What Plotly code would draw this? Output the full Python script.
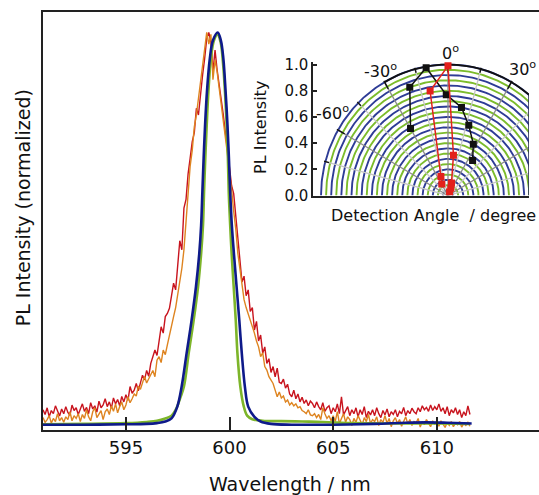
import numpy as np
import plotly.graph_objects as go

# ---------------- main spectra ----------------
WL_START = 591.0
WL_STEP = 0.1

red_pl = [
    0.040, 0.028, 0.045, 0.022, 0.038, 0.030, 0.050, 0.035, 0.024, 0.042,
    0.030, 0.048, 0.033, 0.026, 0.052, 0.038, 0.045, 0.028, 0.040, 0.055,
    0.036, 0.046, 0.030, 0.058, 0.042, 0.050, 0.034, 0.062, 0.045, 0.052,
    0.068, 0.048, 0.060, 0.044, 0.070, 0.055, 0.066, 0.050, 0.074, 0.060,
    0.078, 0.064, 0.099, 0.082, 0.090, 0.107, 0.088, 0.111, 0.128, 0.116,
    0.140, 0.125, 0.158, 0.175, 0.192, 0.178, 0.217, 0.251, 0.235, 0.277,
    0.285, 0.298, 0.330, 0.362, 0.345, 0.404, 0.470, 0.447, 0.553, 0.575,
    0.640, 0.680, 0.722, 0.745, 0.807, 0.790, 0.849, 0.892, 0.934, 0.985,
    1.000, 0.975, 0.900, 0.955, 0.905, 0.870, 0.835, 0.790, 0.745, 0.700,
    0.665, 0.610, 0.590, 0.530, 0.470, 0.430, 0.365, 0.380, 0.330, 0.345,
    0.290, 0.300, 0.243, 0.265, 0.215, 0.230, 0.184, 0.200, 0.158, 0.170,
    0.135, 0.150, 0.124, 0.146, 0.110, 0.107, 0.118, 0.095, 0.105, 0.080,
    0.073, 0.090, 0.068, 0.080, 0.060, 0.072, 0.056, 0.065, 0.050, 0.062,
    0.056, 0.045, 0.060, 0.048, 0.040, 0.058, 0.036, 0.045, 0.050, 0.030,
    0.045, 0.035, 0.055, 0.030, 0.073, 0.027, 0.040, 0.048, 0.025, 0.040,
    0.030, 0.045, 0.022, 0.040, 0.028, 0.048, 0.020, 0.036, 0.027, 0.040,
    0.025, 0.045, 0.030, 0.020, 0.038, 0.027, 0.042, 0.022, 0.035, 0.028,
    0.040, 0.022, 0.036, 0.030, 0.046, 0.025, 0.038, 0.030, 0.044, 0.035,
    0.030, 0.045, 0.035, 0.050, 0.040, 0.046, 0.036, 0.052, 0.038, 0.048,
    0.040, 0.055, 0.036, 0.045, 0.030, 0.048, 0.025, 0.040, 0.032, 0.045,
    0.028, 0.040, 0.020, 0.035, 0.025, 0.050, 0.028,
]

orange_pl = [
    0.020, 0.008, 0.015, 0.025, 0.006, 0.018, 0.010, 0.030, 0.012, 0.020,
    0.008, 0.022, 0.015, 0.035, 0.012, 0.025, 0.018, 0.030, 0.010, 0.028,
    0.018, 0.040, 0.022, 0.012, 0.035, 0.045, 0.020, 0.030, 0.038, 0.015,
    0.035, 0.042, 0.028, 0.050, 0.036, 0.055, 0.032, 0.048, 0.060, 0.040,
    0.052, 0.073, 0.058, 0.068, 0.080, 0.075, 0.100, 0.092, 0.110, 0.125,
    0.108, 0.120, 0.128, 0.140, 0.124, 0.166, 0.175, 0.160, 0.192, 0.180,
    0.205, 0.230, 0.260, 0.277, 0.300, 0.330, 0.362, 0.400, 0.447, 0.520,
    0.600, 0.660, 0.700, 0.760, 0.790, 0.830, 0.870, 0.910, 0.950, 1.000,
    0.970, 0.995, 0.880, 0.930, 0.900, 0.860, 0.820, 0.780, 0.740, 0.690,
    0.640, 0.600, 0.545, 0.500, 0.438, 0.400, 0.353, 0.320, 0.300, 0.285,
    0.268, 0.250, 0.235, 0.215, 0.200, 0.175, 0.185, 0.150, 0.141, 0.124,
    0.115, 0.107, 0.090, 0.073, 0.085, 0.070, 0.075, 0.060, 0.065, 0.052,
    0.058, 0.050, 0.055, 0.045, 0.048, 0.038, 0.035, 0.030, 0.040, 0.027,
    0.025, 0.030, 0.020, 0.028, 0.015, 0.045, 0.030, 0.018, 0.025, 0.012,
    0.025, 0.010, 0.035, 0.005, 0.018, 0.030, 0.008, 0.022, 0.015, 0.000,
    0.018, 0.008, 0.025, 0.012, 0.002, 0.020, 0.010, 0.028, 0.005, 0.015,
    0.010, 0.022, 0.000, 0.015, 0.008, 0.025, 0.005, 0.018, -0.003, 0.012,
    0.020, 0.005, 0.015, -0.002, 0.012, 0.022, 0.004, 0.015, 0.000, 0.010,
    0.006, 0.018, -0.004, 0.010, 0.002, 0.015, 0.006, -0.003, 0.012, 0.004,
    0.010, -0.002, 0.012, 0.004, -0.005, 0.008, 0.000, 0.010, -0.003, 0.006,
    0.002, 0.010, -0.004, 0.005, 0.000, 0.008, -0.002,
]

green_wl = [591.0, 593.0, 595.0, 596.0, 596.5, 596.9, 597.2, 597.45, 597.62,
            597.8, 598.03, 598.27, 598.48, 598.63, 598.72, 598.77, 598.83,
            598.9, 598.98, 599.1, 599.25, 599.42, 599.57, 599.68, 599.78,
            599.86, 599.92, 599.96, 600.03, 600.1, 600.2, 600.3, 600.38,
            600.52, 600.68, 600.85, 601.1, 601.6, 602.5, 603.5, 604.5,
            606.0, 608.0, 610.0, 611.6]
green_pl = [0.003, 0.004, 0.006, 0.009, 0.012, 0.018, 0.025, 0.045, 0.070,
            0.099, 0.184, 0.268, 0.353, 0.438, 0.510, 0.595, 0.680,
            0.765, 0.849, 0.934, 0.980, 0.995, 0.975, 0.925, 0.849,
            0.765, 0.680, 0.595, 0.510, 0.438, 0.353, 0.268, 0.184,
            0.099, 0.050, 0.025, 0.016, 0.012, 0.011, 0.010, 0.009,
            0.006, 0.005, 0.005, 0.004]

navy_wl = [591.0, 593.0, 595.0, 596.0, 596.5, 596.9, 597.2, 597.48, 597.69,
           597.93, 598.17, 598.38, 598.54, 598.63, 598.69, 598.75, 598.82,
           598.91, 599.05, 599.2, 599.43, 599.58, 599.70, 599.81, 599.90,
           599.97, 600.03, 600.11, 600.21, 600.34, 600.47, 600.59, 600.74,
           600.90, 601.2, 601.5, 602.0, 603.0, 605.0, 607.0, 608.5, 609.5,
           610.5, 611.68]
navy_pl = [0.002, 0.002, 0.003, 0.004, 0.006, 0.010, 0.018, 0.048, 0.099,
           0.184, 0.268, 0.353, 0.438, 0.510, 0.595, 0.680, 0.765,
           0.849, 0.934, 0.980, 1.000, 0.980, 0.934, 0.849, 0.765,
           0.680, 0.595, 0.510, 0.438, 0.353, 0.268, 0.184, 0.099,
           0.048, 0.022, 0.010, 0.004, 0.002, 0.002, 0.004, 0.007, 0.008,
           0.007, 0.005]

X_TICKS = [595, 600, 605, 610]

# ---------------- inset: angular distribution ----------------
black_angle = [-30, -20, -10, -1, 9, 17, 27, 36]
black_r = [0.59, 0.88, 0.99, 0.77, 0.68, 0.56, 0.44, 0.33]
red_angle = [-29, -21, -10, 0, 8, 16, 22, 24]
red_r = [0.10, 0.155, 0.81, 0.99, 0.31, 0.10, 0.06, 0.03]

ring_r = [round(0.04 * k, 2) for k in range(1, 26)]
grid_angles = [-75, -60, -45, -30, -15, 0, 15, 30, 45, 60, 75]
angle_labels = ["-60<sup>o</sup>", "-30<sup>o</sup>", "30<sup>o</sup>"]
zero_label = "0<sup>o</sup>"
r_ticks = [0.0, 0.2, 0.4, 0.6, 0.8, 1.0]

FONT = "DejaVu Sans"

wl = np.round(WL_START + WL_STEP * np.arange(len(red_pl)), 2)

fig = go.Figure()
fig.add_trace(go.Scatter(x=wl, y=red_pl, mode="lines",
                         line=dict(color="#c8141e", width=1.4), showlegend=False))
fig.add_trace(go.Scatter(x=wl, y=orange_pl, mode="lines",
                         line=dict(color="#de8420", width=1.4), showlegend=False))
fig.add_trace(go.Scatter(x=green_wl, y=green_pl, mode="lines",
                         line=dict(color="#7db52a", width=2.6, shape="spline"),
                         showlegend=False))
fig.add_trace(go.Scatter(x=navy_wl, y=navy_pl, mode="lines",
                         line=dict(color="#0e1a8a", width=2.6, shape="spline"),
                         showlegend=False))


def pol(theta_deg, r):
    t = np.radians(np.asarray(theta_deg, dtype=float))
    r = np.asarray(r, dtype=float)
    return r * np.sin(t), r * np.cos(t)


# rings
arc = np.arange(-90, 90.5, 1.0)
for k, rr in enumerate(ring_r):
    xs, ys = pol(arc, np.full(arc.shape, rr))
    col = "#2e3c96" if k % 2 == 0 else "#7cbc2c"
    fig.add_trace(go.Scatter(x=xs, y=ys, mode="lines", xaxis="x2", yaxis="y2",
                             line=dict(color=col, width=1.9), showlegend=False,
                             hoverinfo="skip"))
# radial grid lines
for a in grid_angles:
    xs, ys = pol([a, a], [0, 1.0])
    col = "#8a8a8a" if a % 30 == 0 else "#c6c6c6"
    fig.add_trace(go.Scatter(x=xs, y=ys, mode="lines", xaxis="x2", yaxis="y2",
                             line=dict(color=col, width=1.3), showlegend=False,
                             hoverinfo="skip"))
# outer black arc and ticks
arc2 = np.arange(-30, 90.5, 1.0)
xs, ys = pol(arc2, np.ones(arc2.shape))
fig.add_trace(go.Scatter(x=xs, y=ys, mode="lines", xaxis="x2", yaxis="y2",
                         line=dict(color="#111", width=1.8), showlegend=False,
                         hoverinfo="skip"))
for a in grid_angles:
    inner = 0.94 if a % 30 == 0 else 0.97
    xs, ys = pol([a, a], [inner, 1.01])
    fig.add_trace(go.Scatter(x=xs, y=ys, mode="lines", xaxis="x2", yaxis="y2",
                             line=dict(color="#111", width=1.4), showlegend=False,
                             hoverinfo="skip"))

bx, by = pol(black_angle, black_r)
fig.add_trace(go.Scatter(x=bx, y=by, mode="lines+markers", xaxis="x2", yaxis="y2",
                         line=dict(color="#111", width=1.5),
                         marker=dict(symbol="square", size=7, color="#111"),
                         showlegend=False))
rx, ry = pol(red_angle, red_r)
fig.add_trace(go.Scatter(x=rx, y=ry, mode="lines+markers", xaxis="x2", yaxis="y2",
                         line=dict(color="#e3211c", width=1.5),
                         marker=dict(symbol="square", size=7, color="#e3211c"),
                         showlegend=False))

X2_RANGE = [-1.063, 0.638]
# right frame edge of the clipped polar area
edge_y = float(np.sqrt(1 - X2_RANGE[1] ** 2))
fig.add_trace(go.Scatter(x=[X2_RANGE[1], X2_RANGE[1]], y=[0, edge_y], mode="lines",
                         xaxis="x2", yaxis="y2", line=dict(color="#2a2f55", width=1.6),
                         showlegend=False, hoverinfo="skip"))

annotations = [
    dict(text="Wavelength / nm", xref="paper", yref="paper", x=0.498, y=-0.128,
         xanchor="center", yanchor="middle", showarrow=False,
         font=dict(family=FONT, size=19, color="#111")),
    dict(text="PL Intensity (normalized)", xref="paper", yref="paper", x=-0.041,
         y=0.532, xanchor="center", yanchor="middle", textangle=-90,
         showarrow=False, font=dict(family=FONT, size=19, color="#111")),
    dict(text="PL Intensity", xref="paper", yref="paper", x=0.4395, y=0.725,
         xanchor="center", yanchor="middle", textangle=-90, showarrow=False,
         font=dict(family=FONT, size=16, color="#111")),
    dict(text="Detection Angle  / degree", xref="paper", yref="paper", x=0.787,
         y=0.514, xanchor="center", yanchor="middle", showarrow=False,
         font=dict(family=FONT, size=16, color="#111")),
    dict(text=zero_label, xref="paper", yref="paper", x=0.8206, y=0.9031,
         xanchor="center", yanchor="middle", showarrow=False,
         font=dict(family=FONT, size=16, color="#111")),
]
label_pos = [(-0.909, 0.637), (-0.528, 0.958), (0.59, 0.966)]
for txt, (lx, ly) in zip(angle_labels, label_pos):
    annotations.append(dict(text=txt, xref="x2", yref="y2", x=lx, y=ly,
                            xanchor="center", yanchor="middle", showarrow=False,
                            font=dict(family=FONT, size=16, color="#111")))

fig.update_layout(
    width=539, height=495,
    margin=dict(l=43, r=0, t=12, b=65),
    paper_bgcolor="white", plot_bgcolor="white",
    font=dict(family=FONT, color="#111"),
    xaxis=dict(range=[591.0, 614.93], showline=True, linecolor="#222", linewidth=2,
               mirror=True, ticks="inside", ticklen=13, tickwidth=2,
               tickcolor="#222", tickvals=X_TICKS, showgrid=False, zeroline=False,
               tickfont=dict(family=FONT, size=18, color="#111")),
    yaxis=dict(range=[-0.0115, 1.052], showline=True, linecolor="#222",
               linewidth=2, showticklabels=False, ticks="", showgrid=False,
               zeroline=False),
    xaxis2=dict(domain=[0.5444, 0.9798], range=X2_RANGE, anchor="y2",
                showline=True, linecolor="#222", linewidth=1.5, ticks="",
                showticklabels=False, showgrid=False, zeroline=False),
    yaxis2=dict(domain=[0.561, 0.8806], range=[0, 1.02], anchor="x2",
                showline=True, linecolor="#222", linewidth=1.5, ticks="inside",
                ticklen=4, tickwidth=1.5, tickcolor="#222", tickvals=r_ticks,
                ticktext=[f"{v:.1f}" for v in r_ticks], showgrid=False,
                zeroline=False, tickfont=dict(family=FONT, size=15, color="#111")),
    annotations=annotations,
)

fig.write_html("out.html", config={"displayModeBar": False})
